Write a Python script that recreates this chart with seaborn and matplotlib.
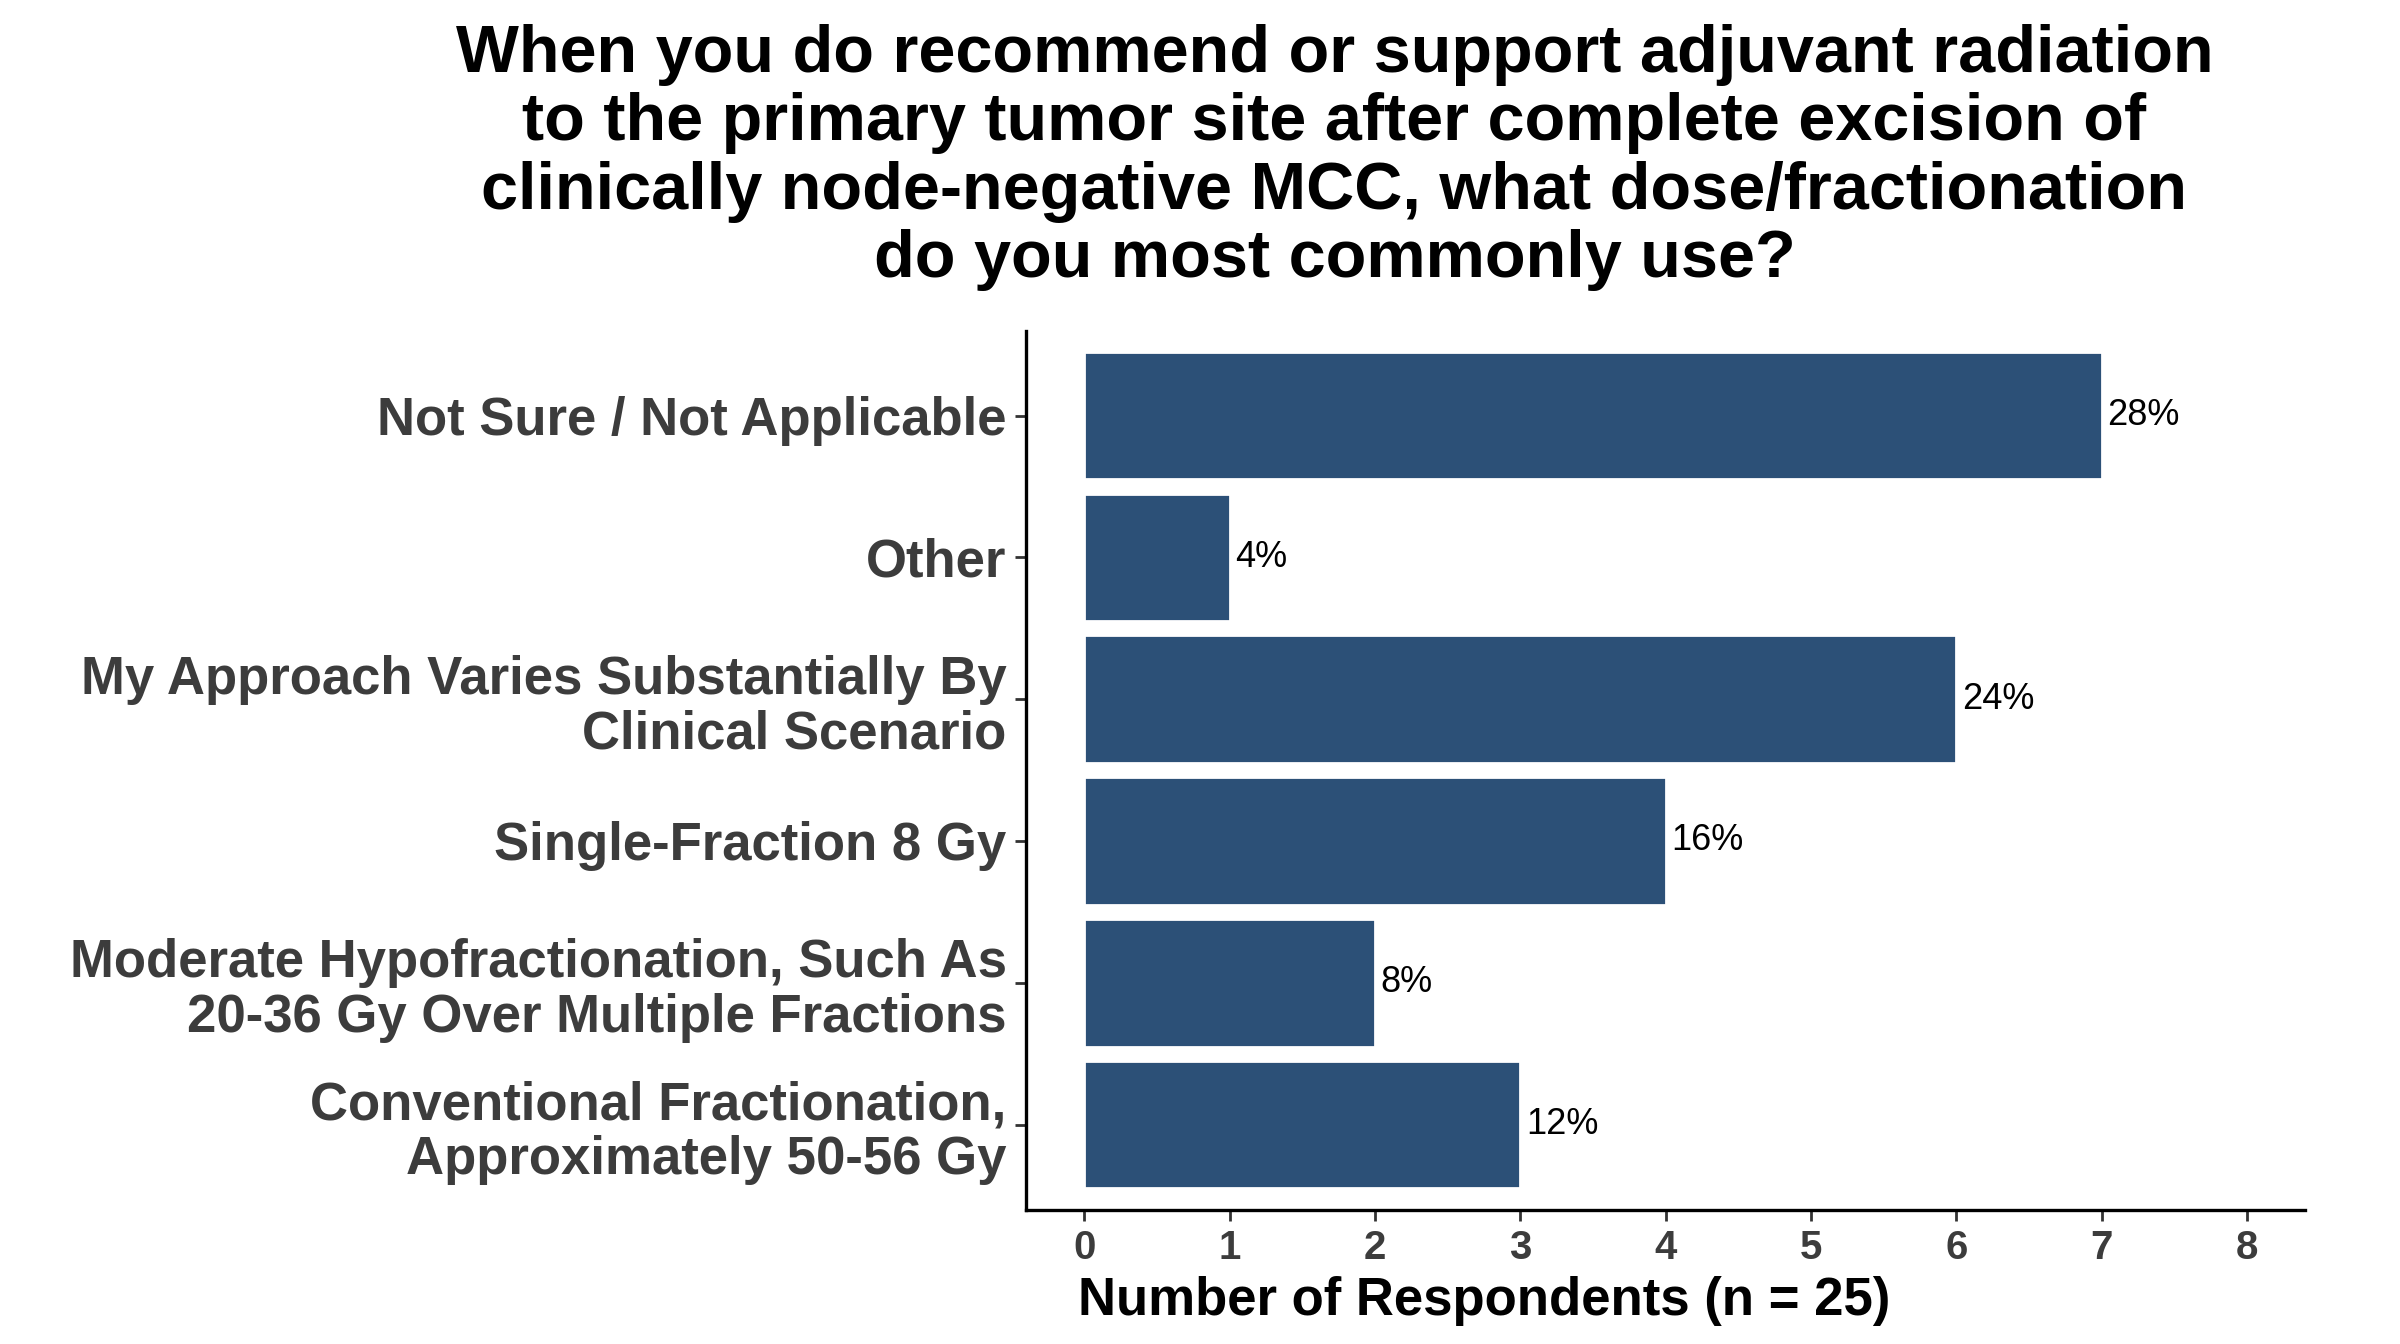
import matplotlib
matplotlib.use("Agg")
import matplotlib.pyplot as plt
import seaborn as sns
import pandas as pd

categories = [
    "Not Sure / Not Applicable",
    "Other",
    "My Approach Varies Substantially By\nClinical Scenario",
    "Single-Fraction 8 Gy",
    "Moderate Hypofractionation, Such As\n20-36 Gy Over Multiple Fractions",
    "Conventional Fractionation,\nApproximately 50-56 Gy",
]
counts = [7, 1, 6, 4, 2, 3]
n_total = 25
title = ("When you do recommend or support adjuvant radiation\n"
         "to the primary tumor site after complete excision of\n"
         "clinically node-negative MCC, what dose/fractionation\n"
         "do you most commonly use?")
xlabel = "Number of Respondents (n = 25)"
xticks = [0, 1, 2, 3, 4, 5, 6, 7, 8]

sns.set_theme(style="white")
plt.rcParams['font.family'] = ['Liberation Sans', 'DejaVu Sans']

df = pd.DataFrame({"category": categories, "count": counts})

fig = plt.figure(figsize=(12, 6.72), dpi=200)
ax = fig.add_axes([0.4275, 0.10, 0.533, 0.654])

sns.barplot(data=df, y="category", x="count", order=categories, orient="h",
            color="#2C5077", saturation=1, width=0.9, ax=ax)

for i, c in enumerate(counts):
    ax.text(c + 0.04, i, f"{round(100 * c / n_total)}%", va="center", ha="left",
            fontsize=13, color="black")

ax.set_xlim(-0.4, 8.4)
ax.set_ylim(5.6, -0.6)
ax.set_xticks(xticks)
ax.set_xticklabels([str(t) for t in xticks], fontsize=14.5, fontweight="bold", color="#3C3C3C")
ax.set_yticks(range(len(categories)))
ax.set_yticklabels(categories, fontsize=19, fontweight="bold", color="#3C3C3C",
                   linespacing=1.12)
ax.set_ylabel("")
ax.set_xlabel(xlabel, fontsize=19, fontweight="bold", color="black")
ax.xaxis.set_label_coords(0.358, -0.075)

for s in ["top", "right"]:
    ax.spines[s].set_visible(False)
for s in ["left", "bottom"]:
    ax.spines[s].set_color("black")
    ax.spines[s].set_linewidth(1.2)
ax.tick_params(axis="both", which="both", length=4, width=1, color="#333333",
               bottom=True, left=True, pad=3)
ax.grid(False)

fig.text(0.556, 0.982, title, ha="center", va="top", fontsize=24,
         fontweight="bold", color="black", linespacing=1.13)

fig.savefig("out.png", dpi=200, facecolor="white")
